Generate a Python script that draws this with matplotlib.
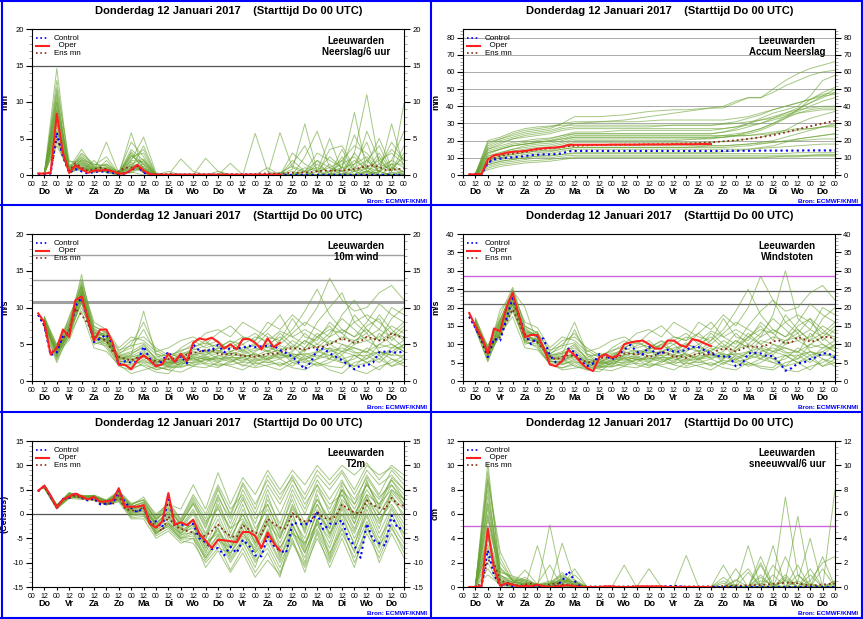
import numpy as np
import matplotlib.pyplot as plt
from matplotlib.ticker import MultipleLocator
from matplotlib.lines import Line2D

plt.rcParams['font.family'] = ['Liberation Sans', 'DejaVu Sans']
plt.rcParams['axes.unicode_minus'] = False

# Tijdstappen (uren na Do 00 UTC)
t6 = np.arange(6, 361, 6)
t_oper = np.arange(6, 241, 6)
t_leden = np.arange(12, 361, 12)

dagen = ['Do', 'Vr', 'Za', 'Zo', 'Ma', 'Di', 'Wo', 'Do', 'Vr', 'Za', 'Zo', 'Ma', 'Di', 'Wo', 'Do']
uur_labels = ['00' if h % 24 == 0 else '12' for h in range(0, 361, 12)]
titel = 'Donderdag 12 Januari 2017    (Starttijd Do 00 UTC)'

# ---------------- Neerslag / 6 uur (mm) ----------------
p6_oper = [0.2, 0.2, 0.3, 8.4, 3.0, 0.3, 1.3, 0.8, 0.3, 0.6, 0.6, 0.7, 0.5, 0.2, 0.2, 0.7, 1.4, 0.6, 0.1, 0.05,
           0.05, 0.05, 0.05, 0.05, 0.05, 0.05, 0.05, 0.05, 0.05, 0.05, 0.05, 0.05, 0.05, 0.05, 0.05, 0.05, 0.05, 0.05, 0.05, 0.05]
p6_ctrl = [0.1, 0.1, 0.2, 5.8, 2.5, 0.3, 0.8, 0.5, 0.2, 0.4, 0.5, 0.4, 0.3, 0.1, 0.2, 0.6, 1.3, 0.3, 0.05, 0.05,
           0.02, 0.02, 0.02, 0.02, 0.02, 0.02, 0.02, 0.02, 0.02, 0.02, 0.02, 0.02, 0.02, 0.02, 0.02, 0.02, 0.02, 0.02, 0.02, 0.02,
           0.02, 0.02, 0.02, 0.02, 0.02, 0.02, 0.02, 0.02, 0.02, 0.02, 0.02, 0.02, 0.02, 0.02, 0.02, 0.02, 0.02, 0.02, 0.02, 0.02]
p6_gem = [0.2, 0.2, 0.4, 5.0, 3.0, 0.6, 1.6, 1.0, 0.6, 0.8, 1.0, 0.8, 0.4, 0.5, 1.0, 1.0, 1.2, 0.4, 0.1, 0.1,
          0.1, 0.1, 0.1, 0.1, 0.1, 0.1, 0.1, 0.1, 0.1, 0.1, 0.1, 0.1, 0.1, 0.1, 0.15, 0.15, 0.2, 0.2, 0.2, 0.2,
          0.25, 0.3, 0.3, 0.35, 0.4, 0.5, 0.6, 0.6, 0.6, 0.6, 0.7, 0.8, 1.0, 1.2, 1.3, 1.1, 0.7, 0.7, 0.8, 0.9]
p6_leden = [
    [0.3, 14.6, 0.8, 1.5, 0.5, 0.8, 0.2, 1.0, 4.0, 0.1, 0, 0, 0, 0, 0, 0, 0, 0, 0.1, 0.3, 1.2, 0.5, 2.0, 1.0, 0.5, 3.0, 11.0, 1.5, 0.8, 2.5],
    [0.2, 12.0, 2.0, 1.0, 0.8, 1.5, 0.3, 3.5, 2.0, 0, 0, 2.2, 0.5, 0, 0, 0, 0, 0, 0, 0, 0, 0.5, 0, 0, 1.0, 8.6, 0.5, 0.3, 7.0, 1.0],
    [0.1, 10.0, 0.5, 2.5, 1.2, 0.6, 0.1, 2.0, 5.2, 0.3, 0, 0, 0, 0, 0, 0, 0, 5.7, 0.5, 0, 0, 0, 1.5, 0.2, 0, 0, 2.0, 4.0, 0.5, 9.8],
    [0.2, 9.0, 1.2, 0.8, 0.6, 4.5, 0.2, 0.5, 1.5, 0, 0.5, 0, 0, 0, 0, 0, 0, 0, 0, 5.8, 1.0, 0.3, 0, 0, 2.5, 0.5, 1.0, 0, 0.3, 0.5],
    [0.3, 8.0, 0.3, 1.2, 0.4, 0.5, 0, 3.0, 0.8, 0, 0, 0, 0, 2.3, 0.5, 0, 0, 0, 0, 0, 0.8, 7.0, 0.5, 0, 0, 1.0, 0.3, 2.5, 0, 0.5],
    [0.1, 7.0, 0.6, 2.0, 1.0, 0.4, 0.3, 1.2, 0.3, 0, 0, 0, 0, 0, 0, 0, 0, 0, 0, 0, 0, 0, 0, 3.5, 4.0, 1.0, 2.0, 0.5, 1.5, 0.3],
    [0.2, 6.0, 1.0, 0.5, 2.0, 0.3, 0, 0.4, 0, 0, 0, 0, 0, 0, 0, 1.6, 0, 0, 0, 0.3, 0, 0, 0, 0, 0, 0, 0.5, 0, 0, 0],
    [0.3, 11.0, 0.4, 1.8, 0.7, 1.0, 0.2, 2.5, 3.0, 0, 0, 0, 0, 0, 0, 0, 0, 0, 0, 0, 3.0, 1.5, 0.5, 5.0, 0.5, 2.0, 0.8, 3.0, 0.5, 4.0],
    [0.1, 5.0, 0.2, 1.0, 0.3, 2.0, 0.1, 0.8, 1.0, 0, 0, 0, 0, 0, 0, 0, 0, 0, 0, 0, 0, 0, 0, 0, 0.2, 0, 0, 0, 0, 0.2],
    [0.2, 9.5, 1.5, 0.6, 0.5, 0.8, 0.4, 4.5, 2.5, 0, 0, 0, 0, 0, 0, 0, 0, 0, 1.0, 0, 0, 2.5, 6.0, 1.0, 0, 1.5, 4.5, 0, 1.0, 0],
    [0.3, 4.0, 0.6, 1.4, 0.9, 0.6, 0, 1.5, 0.5, 0, 0, 0, 0, 0, 0, 0, 0, 0, 0, 0, 0, 0, 0, 0, 0, 0, 0.3, 0, 0, 0],
    [0.2, 8.5, 0.9, 3.0, 1.5, 1.2, 0.2, 2.0, 1.8, 0, 0, 0, 0, 0, 0, 0, 0, 0, 0, 0, 0.5, 0, 2.0, 0, 3.5, 0.5, 6.0, 2.0, 3.0, 1.5],
    [0.1, 6.5, 0.4, 0.9, 0.4, 0.7, 0.1, 5.8, 0.6, 0, 0, 0, 0, 0, 0, 0, 0, 0, 0, 0, 0, 0, 0, 0, 0, 0, 0, 0, 0, 0],
    [0.2, 7.5, 0.7, 1.6, 0.6, 0.9, 0.3, 1.0, 2.0, 0, 0, 0, 0, 0, 0, 0, 0, 0, 0, 0, 1.5, 4.0, 0.5, 1.0, 2.0, 0, 1.0, 0.5, 2.0, 6.0],
    [0.3, 10.5, 0.5, 1.1, 0.5, 0.5, 0.2, 0.3, 1.2, 0, 0, 0, 0, 0, 0, 0, 0, 0, 0, 0, 0, 0, 0, 0.5, 1.0, 5.5, 2.0, 0.5, 0, 0],
    [0.2, 5.5, 0.3, 2.2, 0.8, 0.4, 0, 1.8, 0.4, 0, 0, 0, 0, 0, 0, 0, 0, 0, 0, 0, 0, 0, 0, 0, 0, 0.5, 0, 1.0, 4.5, 2.0],
    [0.2, 13.0, 1.0, 3.5, 1.0, 1.5, 0.4, 2.8, 1.0, 0, 0, 0, 0, 0, 0.5, 0, 0, 0, 0, 0, 0, 1.0, 0.5, 0, 2.0, 4.0, 3.0, 1.0, 2.0, 1.0],
    [0.3, 9.0, 0.7, 2.8, 1.3, 2.5, 0.2, 1.5, 2.2, 0, 0, 0, 0, 0, 0, 0, 0, 0, 0, 0, 0, 0.5, 3.0, 2.0, 1.0, 0.5, 1.5, 5.0, 1.0, 0.5],
    [0.2, 7.0, 1.8, 1.9, 0.9, 1.1, 0.3, 2.2, 3.5, 0, 0, 0, 0, 0, 0, 0, 0, 0, 0, 0, 0, 0, 0, 1.5, 0, 3.0, 1.0, 2.0, 0.5, 3.0],
    [0.1, 11.5, 0.5, 1.3, 0.6, 0.7, 0.1, 0.6, 0.8, 0, 0, 0, 0, 0, 0, 0, 0, 0, 0, 0, 0, 0, 0, 0, 0, 0, 0.5, 0, 0.3, 0],
    [0.2, 8.0, 1.1, 2.4, 1.1, 0.9, 0.2, 3.2, 1.4, 0, 0, 0, 0, 0, 0, 0, 0, 0, 0, 0, 2.0, 0.5, 1.0, 0.5, 1.5, 2.5, 0.5, 1.5, 3.5, 2.0],
    [0.3, 6.0, 0.9, 1.7, 0.7, 0.8, 0.3, 1.3, 0.9, 0, 0, 0, 0, 0, 0, 0, 0, 0, 0, 0, 0, 0, 0, 0, 0.5, 0, 0, 0.5, 0, 0],
    [0.2, 10.0, 0.6, 2.1, 1.4, 1.3, 0.2, 2.6, 1.6, 0, 0, 0, 0, 0, 0, 0, 0, 0, 0, 0, 0, 0, 0.5, 2.5, 1.0, 1.5, 2.5, 0.5, 1.5, 1.5],
    [0.1, 4.5, 0.4, 1.0, 0.5, 0.6, 0.1, 0.9, 0.7, 0, 0, 0, 0, 0, 0, 0, 0, 0, 0, 0, 0, 0, 0, 0, 0, 0, 0, 0, 0, 0],
]

# ---------------- Geaccumuleerde neerslag (mm) ----------------
acc_oper = [0.3, 0.4, 0.6, 9.0, 11.5, 12.0, 13.0, 13.5, 13.7, 14.0, 14.6, 15.2, 15.6, 15.8, 16.0, 16.5, 17.5, 17.6, 17.6, 17.6,
            17.6, 17.6, 17.6, 17.7, 17.7, 17.7, 17.7, 17.7, 17.8, 17.8, 17.8, 17.8, 17.8, 17.9, 17.9, 17.9, 17.9, 18.0, 18.0, 18.0]
acc_ctrl = [0.2, 0.3, 0.4, 7.0, 9.0, 9.5, 10.0, 10.3, 10.6, 11.0, 11.5, 11.8, 12.0, 12.0, 12.2, 12.6, 13.8, 14.0, 14.0, 14.0,
            14.0, 14.0, 14.0, 14.0, 14.0, 14.0, 14.0, 14.0, 14.0, 14.0, 14.0, 14.0, 14.0, 14.0, 14.0, 14.0, 14.0, 14.0, 14.0, 14.0,
            14.0, 14.0, 14.1, 14.1, 14.1, 14.1, 14.1, 14.2, 14.2, 14.2, 14.2, 14.2, 14.2, 14.2, 14.3, 14.3, 14.3, 14.3, 14.3, 14.3]
acc_gem = [0.3, 0.5, 0.8, 7.5, 10.0, 11.0, 12.0, 12.5, 13.0, 13.5, 14.2, 14.8, 15.2, 15.5, 15.9, 16.3, 16.8, 17.0, 17.2, 17.3,
           17.4, 17.5, 17.5, 17.6, 17.6, 17.7, 17.7, 17.8, 17.8, 17.9, 17.9, 18.0, 18.0, 18.1, 18.2, 18.3, 18.4, 18.6, 18.8, 19.0,
           19.3, 19.6, 19.9, 20.2, 20.6, 21.0, 21.5, 22.0, 22.6, 23.2, 24.0, 24.8, 25.7, 26.6, 27.5, 28.4, 29.2, 30.0, 30.8, 31.5]
acc_leden = [
    [0.5, 20, 22, 25, 27, 28, 28.5, 29, 29, 29, 29, 29, 29, 29, 29, 29, 29, 29, 29, 29, 29.5, 30, 31, 32, 33, 35, 37, 40, 43, 45],
    [0.4, 18, 21, 23, 25, 26, 27, 30, 34, 34, 34, 34.5, 35, 36, 37, 37.5, 38, 38, 38.5, 39, 39, 42, 45, 45, 48, 52, 55, 58, 60, 61],
    [0.4, 10, 12, 14, 15, 16, 16.5, 18, 20, 20, 20, 20, 20, 20, 20, 20, 20, 20.5, 21, 21, 22, 23, 25, 27, 30, 34, 38, 44, 48, 51],
    [0.3, 6, 8, 9, 10, 11, 11.5, 12, 12.5, 12.5, 12.5, 12.5, 12.5, 12.5, 12.5, 12.5, 12.5, 12.5, 12.5, 12.5, 12.5, 12.5, 12.5, 12.5, 12.5, 12.5, 13, 13, 13, 13],
    [0.3, 3, 5, 6, 7, 7.5, 8, 9, 10, 10, 10, 10, 10, 10, 10, 10, 10, 10, 10, 10, 10, 10, 10, 10, 10.5, 11, 11, 11.5, 12, 12],
    [0.5, 15, 18, 21, 23, 24, 25, 27, 28, 28, 28, 28, 28, 28, 28, 28.5, 29, 29, 29, 29, 30, 31, 33, 35, 38, 40, 42, 44, 47, 48],
    [0.4, 12, 15, 17, 18, 19, 20, 22, 24, 24, 24, 24, 24, 24, 24, 24, 24, 24, 24, 24, 25, 27, 30, 33, 36, 38, 40, 46, 55, 58],
    [0.3, 8, 10, 11, 12, 13, 13.5, 15, 16, 16, 16, 16, 16, 16, 16, 16, 16, 16, 16.5, 17, 17, 17.5, 18, 19, 20, 22, 24, 26, 28, 30],
    [0.4, 14, 16, 18, 19, 20, 21, 23, 25, 25, 25, 25.5, 26, 26, 26, 26, 26, 26, 26, 26, 27, 28, 30, 32, 34, 36, 38, 39, 40, 40],
    [0.3, 5, 7, 8, 9, 10, 10, 11, 11.5, 11.5, 11.5, 11.5, 11.5, 11.5, 11.5, 11.5, 11.5, 11.5, 11.5, 11.5, 11.5, 11.5, 11.5, 11.5, 11.5, 11.5, 11.5, 11.5, 11.5, 11.5],
    [0.5, 17, 20, 22, 24, 25, 26, 28, 30, 30.5, 31, 31.5, 32, 33, 34, 35, 36, 37, 38, 39, 40, 43, 45, 45, 50, 55, 59, 62, 64, 66],
    [0.4, 9, 11, 13, 14, 15, 15.5, 17, 19, 19, 19, 19, 19, 19, 19, 19, 19, 19, 19, 19, 19.5, 20, 21, 22, 24, 26, 30, 33, 35, 37],
    [0.3, 7, 9, 10, 11, 12, 12.5, 14, 15, 15, 15, 15, 15, 15, 15, 15, 15, 15, 15, 15, 15, 15, 15, 15.5, 16, 16.5, 17, 17.5, 18, 18],
    [0.4, 11, 13, 15, 16, 17, 17.5, 19, 21, 21, 21, 21, 21, 21, 21, 21, 21, 21, 21, 21.5, 22, 23, 24, 26, 29, 33, 38, 42, 46, 50],
    [0.3, 4, 6, 7, 8, 8.5, 9, 10, 10.5, 10.5, 10.5, 10.5, 10.5, 10.5, 10.5, 10.5, 10.5, 10.5, 10.5, 10.5, 10.5, 10.5, 10.5, 10.5, 10.5, 10.5, 10.5, 11, 11, 11],
    [0.4, 13, 15, 17, 18, 19, 20, 21, 22, 22, 22, 22, 22, 22, 22, 22, 22, 22, 22, 22, 23, 24, 25, 27, 30, 33, 36, 38, 39, 39],
    [0.5, 19, 21, 24, 26, 27, 28, 30, 31, 31, 31, 31, 31, 31, 31.5, 32, 32, 32, 32, 32, 32, 33, 34, 36, 38, 40, 42, 44, 46, 47],
    [0.4, 16, 19, 21, 22, 23, 24, 26, 27, 27, 27, 27, 27, 27, 27, 27, 27, 27, 27, 27, 27, 28, 29, 30, 32, 34, 36, 37, 38, 38],
    [0.3, 9, 11, 12, 13, 14, 14, 15, 16, 16, 16, 16, 16, 16, 16, 16, 16, 16, 16, 16, 16, 16.5, 17, 18, 19, 20, 21, 22, 23, 24],
    [0.4, 13, 15, 17, 18, 19, 19.5, 21, 23, 23, 23, 23, 23, 23, 23, 23, 23, 23, 23, 23, 23, 23, 23, 23.5, 24, 25, 26, 27, 28, 29],
    [0.3, 6, 8, 9, 10, 11, 11, 12, 13, 13, 13, 13, 13, 13, 13, 13, 13, 13, 13, 13, 13.5, 14, 15, 16, 17, 19, 21, 22, 23, 24],
    [0.4, 11, 13, 15, 17, 18, 18.5, 20, 22, 22, 22, 22, 22, 22, 22, 22, 22, 22, 22, 22, 22, 22.5, 23, 24, 25, 26, 27, 27, 28, 28],
    [0.3, 8, 10, 12, 13, 14, 14.5, 16, 17, 17, 17, 17, 17, 17, 17, 17, 17, 17, 17, 17, 17, 17.5, 18, 18.5, 19, 19.5, 20, 20.5, 21, 21],
    [0.5, 15, 17, 19, 20, 21, 21.5, 23, 24, 24, 24, 24, 24, 24, 24, 24, 24, 24, 24, 24, 25, 26, 28, 30, 33, 36, 39, 42, 45, 48],
]

# ---------------- 10m wind (m/s) ----------------
w_oper = [9.2, 8.0, 3.6, 4.5, 7.0, 6.0, 11.0, 11.5, 8.5, 5.5, 7.0, 7.0, 5.2, 2.2, 2.2, 1.6, 2.8, 3.5, 2.8, 2.0,
          2.3, 3.7, 2.6, 3.7, 2.7, 5.2, 5.8, 5.6, 5.9, 5.3, 4.4, 5.0, 4.3, 5.7, 5.7, 5.2, 4.3, 5.8, 4.6, 5.2]
w_ctrl = [9.0, 7.5, 3.5, 3.9, 6.2, 6.5, 10.2, 11.3, 8.5, 5.3, 5.8, 6.3, 5.0, 2.2, 2.7, 2.5, 2.6, 4.7, 3.0, 2.0,
          2.7, 4.0, 2.6, 3.4, 2.4, 5.0, 4.1, 4.1, 4.2, 4.9, 3.9, 4.5, 4.5, 4.5, 4.8, 4.6, 4.7, 4.8, 4.8, 4.2,
          3.8, 3.3, 2.5, 1.6, 2.6, 4.3, 4.4, 3.8, 3.3, 2.8, 2.2, 1.6, 2.1, 2.1, 2.5, 3.9, 4.0, 4.0, 3.8, 4.1]
w_gem = [9.0, 7.5, 3.8, 4.5, 5.8, 6.8, 9.8, 9.0, 7.8, 6.0, 5.8, 5.5, 4.0, 3.3, 3.0, 2.8, 3.2, 3.3, 3.0, 2.7,
         2.7, 3.0, 3.0, 3.2, 3.6, 3.8, 4.0, 4.2, 4.3, 3.7, 3.6, 3.7, 3.6, 3.4, 3.4, 3.3, 3.5, 3.7, 3.7, 3.8,
         4.3, 4.5, 4.4, 4.3, 4.5, 4.6, 4.7, 5.0, 5.4, 5.8, 5.5, 5.2, 5.4, 6.0, 5.8, 5.5, 5.6, 6.5, 6.1, 5.9]
w_leden = [
    [8.0, 4.5, 7.0, 12.0, 6.5, 6.0, 3.0, 3.5, 9.5, 3.5, 2.5, 3.0, 4.5, 5.5, 4.0, 5.0, 6.0, 5.5, 7.0, 9.0, 6.0, 5.0, 8.0, 10.0, 12.0, 8.0, 6.5, 9.0, 7.0, 5.5],
    [7.5, 3.0, 6.0, 11.0, 5.0, 5.5, 2.5, 2.0, 3.0, 2.0, 1.5, 2.5, 3.0, 2.5, 3.5, 3.0, 2.0, 3.0, 2.5, 3.0, 2.0, 3.5, 2.5, 1.5, 1.0, 2.5, 3.0, 4.0, 3.0, 2.5],
    [8.5, 5.0, 8.5, 13.0, 7.5, 6.5, 4.0, 5.5, 6.0, 4.5, 3.5, 4.0, 5.0, 6.5, 7.0, 6.0, 8.0, 7.0, 6.0, 5.5, 7.0, 9.5, 12.5, 9.0, 7.0, 6.0, 8.0, 10.5, 9.0, 8.0],
    [7.8, 4.0, 5.5, 10.0, 6.0, 4.5, 2.0, 1.5, 2.5, 1.5, 2.0, 1.8, 2.5, 3.0, 2.0, 2.5, 3.5, 2.0, 3.0, 4.0, 2.5, 2.0, 3.0, 4.5, 3.0, 2.0, 3.5, 2.5, 4.0, 3.0],
    [8.2, 3.5, 7.5, 14.5, 6.0, 5.0, 3.5, 4.0, 5.0, 3.0, 2.5, 3.5, 4.0, 3.5, 4.5, 5.5, 4.0, 5.0, 4.5, 6.5, 5.0, 4.0, 6.0, 7.5, 5.5, 9.0, 7.0, 5.5, 8.5, 10.0],
    [7.0, 2.5, 6.5, 12.5, 5.5, 5.8, 2.8, 2.5, 4.0, 2.5, 3.0, 2.0, 3.5, 4.0, 3.0, 3.5, 2.5, 4.0, 5.0, 3.5, 4.0, 5.5, 4.5, 3.0, 5.0, 4.0, 3.0, 5.0, 6.0, 4.5],
    [8.8, 4.8, 8.0, 11.5, 7.0, 6.2, 3.2, 3.0, 2.0, 1.2, 1.0, 2.5, 2.0, 3.0, 2.5, 4.0, 5.0, 3.5, 3.0, 2.0, 3.0, 4.5, 6.0, 5.0, 4.0, 5.5, 6.5, 4.0, 3.5, 5.0],
    [7.6, 3.8, 7.0, 13.5, 8.0, 7.0, 4.5, 6.0, 5.5, 4.0, 4.5, 5.5, 6.0, 5.0, 6.5, 7.5, 6.0, 5.5, 8.0, 7.0, 9.0, 7.5, 10.0, 14.0, 11.0, 9.5, 10.0, 12.0, 13.0, 11.0],
    [8.4, 4.2, 6.2, 9.5, 4.5, 4.0, 2.2, 1.0, 1.5, 2.0, 1.5, 1.2, 2.0, 1.8, 2.5, 2.0, 1.5, 2.5, 2.0, 1.5, 2.5, 3.0, 2.0, 2.5, 3.5, 1.5, 1.0, 2.0, 2.5, 3.5],
    [8.0, 3.2, 7.2, 12.2, 6.8, 5.2, 3.8, 4.5, 7.0, 3.8, 2.8, 4.5, 5.5, 4.5, 5.0, 4.5, 5.5, 6.5, 5.0, 6.0, 4.5, 6.5, 5.0, 6.5, 8.5, 7.0, 5.5, 6.0, 7.5, 6.5],
    [7.4, 4.6, 5.8, 11.8, 5.8, 6.8, 2.6, 2.8, 3.5, 2.2, 2.2, 3.0, 2.8, 3.2, 2.8, 3.2, 3.0, 2.6, 3.5, 4.5, 3.5, 2.8, 4.0, 3.5, 2.5, 3.0, 4.5, 3.5, 2.0, 3.0],
    [8.6, 3.6, 8.8, 12.8, 7.2, 6.0, 3.4, 3.8, 4.5, 3.2, 3.8, 3.2, 4.2, 4.8, 5.5, 4.0, 4.5, 4.8, 6.5, 5.0, 6.5, 8.0, 7.0, 6.0, 9.0, 11.0, 8.5, 7.0, 10.0, 9.0],
    [7.2, 2.8, 6.8, 10.5, 5.2, 4.8, 2.4, 2.2, 2.8, 1.8, 2.6, 2.2, 3.2, 2.2, 1.8, 2.8, 2.2, 1.8, 2.2, 2.5, 1.8, 1.5, 2.5, 2.0, 1.8, 3.5, 2.5, 1.5, 3.0, 2.0],
    [8.3, 4.4, 7.8, 13.2, 6.2, 5.6, 3.6, 5.0, 8.0, 4.2, 3.2, 3.8, 3.8, 4.2, 3.8, 5.0, 3.8, 4.5, 4.0, 5.5, 8.5, 6.0, 5.5, 8.0, 6.5, 5.0, 7.5, 8.5, 5.5, 7.0],
    [7.7, 3.4, 6.6, 11.2, 6.6, 6.4, 3.0, 3.2, 3.8, 2.8, 2.0, 2.8, 2.4, 2.8, 3.2, 2.6, 3.2, 3.8, 2.8, 3.8, 3.2, 3.8, 3.2, 4.0, 4.5, 3.8, 4.0, 3.0, 4.5, 5.5],
    [8.1, 4.0, 7.4, 12.6, 5.6, 5.4, 2.6, 2.6, 3.2, 2.6, 2.4, 2.6, 3.6, 3.8, 4.2, 3.6, 4.2, 3.2, 3.8, 4.2, 4.8, 3.2, 3.8, 5.5, 5.0, 4.5, 3.8, 6.5, 5.0, 4.0],
    [8.3, 3.8, 7.6, 12.0, 6.0, 5.6, 3.0, 3.0, 3.5, 2.5, 2.5, 3.2, 3.6, 3.2, 3.8, 4.0, 3.6, 4.2, 4.6, 4.0, 5.5, 4.5, 6.5, 5.0, 6.0, 5.5, 6.0, 7.0, 6.0, 7.5],
    [7.9, 4.2, 6.8, 11.5, 6.4, 6.2, 3.2, 3.4, 4.2, 2.9, 2.7, 3.4, 3.0, 3.6, 4.0, 3.4, 3.6, 3.0, 3.4, 3.6, 3.0, 4.2, 5.0, 4.2, 3.6, 5.0, 5.5, 4.5, 5.0, 4.0],
    [8.5, 3.3, 7.0, 12.4, 6.9, 5.9, 2.7, 2.4, 2.6, 2.3, 1.9, 2.4, 2.6, 3.4, 2.6, 3.0, 2.8, 3.4, 4.2, 3.0, 3.8, 3.0, 3.5, 3.0, 4.0, 3.5, 2.5, 3.5, 4.0, 5.0],
    [7.3, 4.8, 8.2, 13.8, 7.4, 6.6, 4.2, 4.8, 5.2, 3.6, 3.4, 4.2, 4.6, 5.2, 4.6, 5.4, 5.0, 6.0, 5.4, 6.8, 6.0, 7.0, 6.0, 7.0, 6.5, 8.0, 9.0, 8.0, 6.5, 8.0],
    [8.0, 3.6, 6.4, 10.8, 5.4, 5.0, 2.3, 1.8, 2.2, 1.6, 1.8, 2.0, 2.2, 2.4, 2.2, 2.2, 2.6, 2.4, 2.6, 2.2, 2.8, 2.5, 2.2, 3.0, 2.5, 2.0, 2.5, 3.0, 2.0, 2.5],
    [8.7, 4.4, 7.8, 12.9, 6.3, 5.3, 3.3, 3.6, 4.8, 3.0, 2.9, 3.6, 4.4, 4.0, 4.4, 4.8, 4.2, 5.2, 4.0, 4.8, 4.2, 5.5, 4.5, 6.0, 7.0, 6.0, 7.0, 5.5, 6.5, 6.0],
    [7.6, 3.9, 6.9, 11.9, 6.1, 5.7, 2.9, 2.9, 3.3, 2.7, 2.3, 2.9, 3.4, 2.9, 3.4, 3.8, 3.4, 3.6, 3.2, 3.4, 3.6, 3.6, 4.0, 4.5, 4.0, 4.5, 4.0, 5.0, 4.5, 4.5],
    [8.2, 4.1, 7.3, 12.2, 6.5, 6.1, 3.1, 3.3, 3.6, 2.4, 2.1, 2.7, 3.2, 3.0, 3.0, 3.2, 3.2, 2.8, 3.0, 3.2, 3.4, 2.6, 3.0, 3.5, 3.0, 3.5, 3.5, 4.0, 3.5, 3.5],
]

# ---------------- Windstoten (m/s) ----------------
g_oper = [18.5, 15.0, 12.0, 7.5, 14.3, 13.5, 20.0, 24.0, 18.0, 12.0, 12.5, 12.5, 9.0, 4.5, 4.0, 5.5, 8.5, 7.0, 5.0, 3.5,
          2.7, 6.5, 7.3, 6.3, 7.0, 10.0, 10.5, 10.8, 11.0, 10.0, 8.8, 8.8, 11.0, 11.0, 9.8, 9.2, 11.4, 11.0, 10.2, 9.5]
g_ctrl = [17.5, 14.5, 11.0, 6.5, 11.5, 11.0, 17.0, 22.5, 18.0, 12.5, 10.0, 12.0, 11.5, 7.0, 5.0, 5.2, 8.8, 7.8, 5.5, 4.0,
          4.8, 7.3, 7.0, 5.8, 7.0, 8.5, 9.8, 8.0, 7.2, 9.3, 7.5, 7.5, 8.5, 8.0, 8.0, 8.5, 9.3, 9.2, 8.3, 7.5,
          6.8, 6.7, 6.6, 4.0, 4.5, 7.5, 7.7, 7.5, 6.8, 6.8, 5.0, 2.8, 3.5, 4.8, 5.0, 6.0, 6.5, 7.5, 7.5, 6.3]
g_gem = [17.5, 14.5, 11.0, 7.5, 11.0, 12.0, 16.0, 19.5, 16.0, 12.0, 11.0, 10.5, 8.5, 6.8, 5.8, 6.6, 7.0, 6.8, 6.0, 5.0,
         5.2, 6.2, 6.5, 6.3, 6.5, 7.5, 7.5, 7.2, 7.5, 6.5, 7.0, 8.0, 7.5, 6.5, 6.8, 6.3, 7.0, 7.5, 7.2, 7.3,
         8.3, 8.8, 8.7, 8.0, 8.7, 9.5, 9.3, 9.3, 9.8, 10.8, 11.0, 10.3, 10.5, 12.0, 11.3, 10.7, 11.0, 12.0, 12.0, 11.5]
g_leden = [
    [15.5, 8.0, 16.0, 23.0, 14.0, 12.0, 7.0, 7.5, 14.0, 7.0, 5.0, 6.5, 9.0, 11.0, 8.5, 10.0, 12.0, 11.0, 13.0, 16.0, 12.0, 10.0, 15.0, 19.0, 22.0, 16.0, 13.0, 17.0, 14.0, 11.0],
    [14.5, 6.0, 13.0, 21.0, 10.0, 11.0, 5.5, 4.5, 6.0, 4.5, 3.5, 5.0, 6.0, 5.0, 7.0, 6.0, 4.5, 6.0, 5.0, 6.0, 4.5, 7.0, 5.0, 3.5, 3.0, 5.0, 6.0, 8.0, 6.0, 5.0],
    [16.0, 9.0, 18.0, 25.5, 15.0, 13.0, 8.0, 11.0, 12.0, 9.0, 7.0, 8.0, 10.0, 13.0, 14.0, 12.0, 16.0, 14.0, 12.0, 11.0, 14.0, 19.0, 25.0, 18.0, 14.0, 12.0, 16.0, 21.0, 18.0, 16.0],
    [15.0, 7.5, 12.0, 19.0, 11.0, 9.0, 4.5, 3.5, 5.0, 3.5, 4.0, 3.8, 5.0, 6.0, 4.0, 5.0, 7.0, 4.0, 6.0, 8.0, 5.0, 4.0, 6.0, 9.0, 6.0, 4.0, 7.0, 5.0, 8.0, 6.0],
    [16.5, 7.0, 16.5, 24.5, 20.0, 10.0, 7.0, 8.0, 10.0, 6.0, 5.0, 7.0, 8.0, 7.0, 9.0, 11.0, 8.0, 10.0, 9.0, 13.0, 10.0, 8.0, 12.0, 15.0, 11.0, 18.0, 14.0, 11.0, 17.0, 20.0],
    [14.0, 5.5, 14.0, 22.0, 11.0, 11.5, 5.5, 5.0, 8.0, 5.0, 6.0, 4.0, 7.0, 8.0, 6.0, 7.0, 5.0, 8.0, 10.0, 7.0, 8.0, 11.0, 9.0, 6.0, 10.0, 8.0, 6.0, 10.0, 12.0, 9.0],
    [17.0, 9.5, 17.0, 20.5, 13.5, 12.5, 6.5, 6.0, 4.0, 3.0, 2.5, 5.0, 4.0, 6.0, 5.0, 8.0, 10.0, 7.0, 6.0, 4.0, 6.0, 9.0, 12.0, 10.0, 8.0, 11.0, 13.0, 8.0, 7.0, 10.0],
    [15.2, 7.2, 15.0, 24.0, 16.0, 14.5, 9.0, 12.0, 11.0, 8.0, 9.0, 11.0, 12.0, 10.0, 13.0, 15.0, 12.0, 11.0, 16.0, 14.0, 18.0, 15.0, 20.0, 28.5, 22.0, 19.0, 20.0, 24.0, 26.0, 22.0],
    [16.2, 8.2, 13.0, 17.5, 9.0, 8.5, 4.8, 3.0, 3.5, 4.0, 3.2, 2.8, 4.0, 3.6, 5.0, 4.0, 3.0, 5.0, 4.0, 3.0, 5.0, 6.0, 4.0, 5.0, 7.0, 3.0, 2.5, 4.0, 5.0, 7.0],
    [15.8, 6.5, 15.5, 22.5, 13.0, 10.5, 7.5, 9.0, 16.0, 7.5, 5.5, 9.0, 11.0, 9.0, 10.0, 9.0, 11.0, 13.0, 10.0, 12.0, 9.0, 13.0, 10.0, 13.0, 17.0, 14.0, 11.0, 12.0, 15.0, 13.0],
    [14.8, 9.0, 12.5, 21.5, 11.5, 13.5, 5.2, 5.5, 7.0, 4.4, 4.4, 6.0, 5.6, 6.4, 5.6, 6.4, 6.0, 5.2, 7.0, 9.0, 7.0, 5.6, 8.0, 7.0, 5.0, 6.0, 9.0, 7.0, 4.0, 6.0],
    [16.8, 7.2, 19.5, 23.5, 14.5, 12.0, 6.8, 7.6, 9.0, 6.4, 7.6, 6.4, 8.4, 9.6, 11.0, 8.0, 9.0, 9.6, 13.0, 10.0, 13.0, 16.0, 14.0, 12.0, 18.0, 30.0, 17.0, 14.0, 20.0, 18.0],
    [14.2, 5.2, 13.5, 19.5, 10.5, 9.5, 4.8, 4.4, 5.6, 3.6, 5.2, 4.4, 6.4, 4.4, 3.6, 5.6, 4.4, 3.6, 4.4, 5.0, 3.6, 3.0, 5.0, 4.0, 3.6, 7.0, 5.0, 3.0, 6.0, 4.0],
    [16.4, 8.8, 16.8, 24.2, 12.4, 11.2, 7.2, 10.0, 13.0, 8.4, 6.4, 7.6, 7.6, 8.4, 7.6, 10.0, 7.6, 9.0, 8.0, 11.0, 17.0, 12.0, 11.0, 16.0, 13.0, 10.0, 15.0, 17.0, 11.0, 14.0],
    [15.0, 6.8, 13.2, 20.8, 13.2, 12.8, 6.0, 6.4, 7.6, 5.6, 4.0, 5.6, 4.8, 5.6, 6.4, 5.2, 6.4, 7.6, 5.6, 7.6, 6.4, 7.6, 6.4, 8.0, 9.0, 7.6, 8.0, 6.0, 9.0, 11.0],
    [15.6, 8.0, 14.8, 23.2, 11.2, 10.8, 5.2, 5.2, 6.4, 5.2, 4.8, 5.2, 7.2, 7.6, 8.4, 7.2, 8.4, 6.4, 7.6, 8.4, 9.6, 6.4, 7.6, 11.0, 10.0, 9.0, 7.6, 13.0, 10.0, 8.0],
    [15.8, 7.6, 15.2, 22.0, 12.0, 11.0, 6.0, 6.0, 7.0, 5.0, 5.0, 6.4, 7.2, 6.4, 7.6, 8.0, 7.2, 8.4, 9.2, 8.0, 11.0, 9.0, 13.0, 10.0, 12.0, 11.0, 12.0, 14.0, 12.0, 15.0],
    [15.4, 8.4, 13.6, 21.0, 12.8, 12.4, 6.4, 6.8, 8.4, 5.8, 5.4, 6.8, 6.0, 7.2, 8.0, 6.8, 7.2, 6.0, 6.8, 7.2, 6.0, 8.4, 10.0, 8.4, 7.2, 10.0, 11.0, 9.0, 10.0, 8.0],
    [16.6, 6.6, 14.0, 22.8, 13.8, 11.8, 5.4, 4.8, 5.2, 4.6, 3.8, 4.8, 5.2, 6.8, 5.2, 6.0, 5.6, 6.8, 8.4, 6.0, 7.6, 6.0, 7.0, 6.0, 8.0, 7.0, 5.0, 7.0, 8.0, 10.0],
    [14.6, 9.6, 16.4, 25.0, 14.8, 13.2, 8.4, 9.6, 10.4, 7.2, 6.8, 8.4, 9.2, 10.4, 9.2, 10.8, 10.0, 12.0, 10.8, 13.6, 12.0, 14.0, 12.0, 14.0, 13.0, 16.0, 18.0, 16.0, 13.0, 16.0],
    [16.0, 7.2, 12.8, 20.0, 10.8, 10.0, 4.6, 3.6, 4.4, 3.2, 3.6, 4.0, 4.4, 4.8, 4.4, 4.4, 5.2, 4.8, 5.2, 4.4, 5.6, 5.0, 4.4, 6.0, 5.0, 4.0, 5.0, 6.0, 4.0, 5.0],
    [17.2, 8.8, 15.6, 23.8, 12.6, 10.6, 6.6, 7.2, 9.6, 6.0, 5.8, 7.2, 8.8, 8.0, 8.8, 9.6, 8.4, 10.4, 8.0, 9.6, 8.4, 11.0, 9.0, 12.0, 14.0, 12.0, 14.0, 11.0, 13.0, 12.0],
    [15.2, 7.8, 13.8, 22.2, 12.2, 11.4, 5.8, 5.8, 6.6, 5.4, 4.6, 5.8, 6.8, 5.8, 6.8, 7.6, 6.8, 7.2, 6.4, 6.8, 7.2, 7.2, 8.0, 9.0, 8.0, 9.0, 8.0, 10.0, 9.0, 9.0],
    [16.2, 8.2, 14.6, 23.0, 13.0, 12.2, 6.2, 6.6, 7.2, 4.8, 4.2, 5.4, 6.4, 6.0, 6.0, 6.4, 6.4, 5.6, 6.0, 6.4, 6.8, 5.2, 6.0, 7.0, 6.0, 7.0, 7.0, 8.0, 7.0, 7.0],
]

# ---------------- T2m (Celsius) ----------------
t2_oper = [4.8, 5.8, 3.8, 1.3, 3.0, 3.6, 4.2, 3.6, 3.0, 3.5, 2.5, 2.6, 2.8, 5.3, 1.5, 1.5, 1.5, 1.8, -2.0, -2.8,
           -1.5, 4.3, -2.2, -1.7, -2.3, -1.2, -4.0, -5.5, -7.0, -5.3, -5.4, -5.6, -5.8, -3.7, -3.7, -4.5, -7.0, -3.8, -6.0, -7.5]
t2_ctrl = [4.7, 5.8, 3.6, 1.3, 3.1, 3.4, 4.3, 3.5, 2.8, 3.3, 2.0, 2.1, 2.2, 4.8, 2.3, 1.3, 0.3, 1.4, -1.7, -1.5,
           -2.8, 3.5, -2.0, -2.2, -2.2, -2.0, -5.0, -5.8, -7.2, -7.0, -8.5, -6.7, -8.0, -5.3, -6.5, -8.5, -8.7, -4.6, -6.5, -7.5,
           -8.0, -1.8, -2.0, -2.2, -1.5, 0.2, -3.3, -2.0, -2.0, -1.3, -5.0, -6.5, -9.0, -2.0, -5.3, -6.0, -6.5, -0.3, -3.0, -2.8]
t2_gem = [4.7, 5.6, 3.6, 1.5, 3.0, 3.2, 3.8, 3.2, 2.8, 3.0, 2.0, 2.2, 2.0, 3.8, 1.0, 0.8, 0.5, 1.5, -1.5, -2.5,
          -3.5, -0.5, -2.5, -3.0, -3.5, -3.8, -4.5, -4.5, -3.5, -2.2, -3.5, -4.5, -4.8, -2.3, -3.2, -3.8, -4.2, -1.0, -2.0, -2.8,
          -3.0, 0.2, -1.0, -1.5, -1.3, 0.5, -0.8, -1.0, -0.5, 2.0, 1.0, 0.3, 0.1, 2.8, 1.8, 1.3, 1.0, 3.3, 2.0, 1.7]
t2_leden = [
    [5.8, 1.5, 4.2, 3.8, 3.8, 2.5, 4.5, 2.0, 3.0, 0.0, 2.0, 1.0, 6.0, 1.0, 8.5, 2.0, 7.5, 4.0, 9.0, 5.0, 9.0, 6.0, 10.0, 7.0, 10.0, 8.0, 10.5, 7.0, 10.0, 8.0],
    [5.5, 1.2, 3.5, 3.2, 3.0, 2.0, 2.5, -1.0, -1.0, -5.0, -3.5, -6.0, -5.0, -11.0, -7.5, -12.0, -8.0, -13.0, -9.5, -12.5, -6.0, -11.0, -5.0, -10.0, -4.0, -9.0, -3.0, -8.0, -2.0, -6.0],
    [6.0, 1.8, 4.0, 3.5, 3.5, 2.8, 4.0, 1.5, 2.5, -1.0, 1.0, -2.0, 2.0, -3.0, 4.0, -2.0, 5.0, 0.0, 6.0, 2.0, 7.0, 3.0, 8.0, 5.0, 8.5, 4.0, 9.0, 6.0, 8.0, 5.0],
    [5.2, 1.0, 3.2, 3.0, 2.8, 1.8, 3.0, 0.0, 0.5, -3.0, -1.0, -4.0, -2.0, -7.0, -3.0, -9.0, -5.0, -10.0, -6.0, -11.0, -4.0, -9.0, -2.0, -7.0, 0.0, -4.0, 2.0, -2.0, 3.0, 0.0],
    [5.7, 1.4, 4.4, 3.6, 3.6, 2.6, 3.5, 1.0, 2.0, -2.0, 0.0, -3.0, -1.0, -5.0, 0.0, -6.0, 1.0, -4.0, 3.0, -2.0, 5.0, 0.0, 6.0, 2.0, 4.0, -1.0, 3.0, -3.0, 5.0, 2.0],
    [5.4, 1.6, 3.8, 3.4, 3.2, 2.2, 3.8, 0.5, 1.0, -4.0, -2.0, -5.0, -4.0, -9.0, -5.0, -10.0, -6.0, -11.0, -3.0, -8.0, -1.0, -5.0, 2.0, -2.0, 4.0, 0.0, 5.0, 1.0, 6.0, 3.0],
    [5.9, 1.3, 4.0, 3.8, 3.4, 2.4, 4.2, 1.8, 3.5, -0.5, 2.5, -1.0, 4.0, 0.0, 6.0, 1.0, 4.0, -1.0, 2.0, -4.0, 0.0, -6.0, -2.0, -8.0, -3.0, -10.0, -4.0, -9.0, -3.0, -7.0],
    [5.6, 1.7, 4.2, 3.2, 3.8, 2.0, 2.8, -0.5, 0.0, -4.5, -3.0, -5.5, -6.0, -10.0, -7.0, -8.0, -4.0, -7.0, -2.0, -5.0, 1.0, -3.0, 3.0, -1.0, 5.0, 2.0, 6.0, 3.0, 7.0, 4.0],
    [5.3, 1.1, 3.4, 3.6, 3.0, 2.7, 3.2, 1.2, 1.5, -2.5, -0.5, -3.5, -3.0, -6.0, -4.0, -7.0, -3.0, -8.0, -5.0, -10.0, -5.0, -12.0, -4.0, -11.0, -5.0, -11.0, -2.0, -10.0, -4.0, -9.0],
    [5.8, 1.9, 4.4, 3.3, 3.9, 2.9, 4.8, 2.2, 2.8, -1.5, 1.5, -2.5, 1.0, -4.0, 2.0, -3.0, 3.0, -2.0, 5.0, 0.0, 6.0, 1.0, 7.0, 3.0, 7.0, 2.0, 8.0, 4.0, 9.0, 6.0],
    [5.5, 1.5, 3.6, 3.7, 3.3, 2.1, 3.4, 0.8, 1.2, -3.5, -1.5, -4.5, -2.5, -8.0, -2.0, -5.0, 0.0, -6.0, 0.0, -7.0, -2.0, -8.0, -1.0, -6.0, 1.0, -5.0, 0.0, -6.0, 1.0, -4.0],
    [5.6, 1.4, 3.9, 3.1, 3.6, 2.3, 3.6, 0.2, 0.8, -2.0, 0.5, -3.0, 0.0, -5.5, 3.0, -4.0, 2.0, -5.0, 4.0, -3.0, 3.0, -4.0, 4.0, -3.0, 6.0, -1.0, 7.0, 0.0, 4.0, -1.0],
    [5.4, 1.2, 3.7, 3.9, 3.1, 2.6, 3.1, -0.8, -0.5, -4.0, -2.5, -5.0, -4.5, -9.5, -6.0, -11.5, -7.0, -12.0, -8.0, -13.0, -3.0, -10.0, -1.0, -9.0, -2.0, -8.0, 1.0, -5.0, -1.0, -4.0],
    [5.7, 1.8, 4.1, 3.5, 3.7, 2.5, 4.4, 1.6, 2.2, -1.0, 1.8, -1.5, 3.0, -2.0, 5.0, 0.0, 6.5, 2.0, 7.0, 3.0, 8.0, 4.0, 9.0, 6.0, 9.0, 5.0, 10.0, 8.0, 9.5, 7.0],
    [5.3, 1.3, 3.3, 3.4, 2.9, 1.9, 2.6, 0.0, -0.2, -3.8, -2.2, -4.8, -3.5, -7.5, -4.5, -8.5, -2.0, -6.5, -1.0, -6.0, 0.0, -7.0, 1.0, -4.0, 2.0, -3.0, 3.0, -1.0, 2.0, -2.0],
    [5.9, 1.6, 4.3, 3.7, 3.5, 2.7, 4.6, 1.4, 1.8, -2.2, 0.8, -2.0, 2.5, -1.5, 1.0, -3.0, -1.0, -6.0, -2.0, -9.0, -4.0, -6.0, 0.0, -3.0, 3.0, 0.0, 4.0, 2.0, 5.0, 3.0],
    [5.6, 1.5, 3.9, 3.5, 3.4, 2.4, 3.7, 1.0, 1.4, -2.8, -0.8, -3.8, -1.5, -6.5, -1.0, -7.0, -2.0, -8.0, -3.5, -7.0, -2.5, -6.5, 0.5, -4.5, 2.5, -2.0, 4.0, -1.5, 3.5, 1.0],
    [5.5, 1.4, 3.7, 3.3, 3.3, 2.3, 3.3, 0.6, 1.1, -3.2, -1.8, -4.2, -3.8, -8.5, -4.2, -9.5, -5.5, -9.0, -4.5, -9.5, -2.0, -7.5, -3.0, -8.5, -1.0, -6.0, -0.5, -7.0, 0.0, -5.0],
    [5.8, 1.7, 4.1, 3.6, 3.7, 2.6, 4.1, 1.5, 2.4, -1.2, 1.2, -1.8, 2.2, -2.5, 3.5, -1.0, 3.5, -3.0, 1.0, -5.0, 2.0, -3.5, 5.0, 1.0, 6.5, 3.0, 7.5, 3.5, 6.0, 2.0],
    [5.4, 1.3, 3.6, 3.4, 3.1, 2.2, 3.0, 0.3, 0.6, -3.6, -2.6, -5.2, -5.0, -9.0, -5.5, -7.0, -3.5, -9.5, -7.0, -12.0, -5.5, -10.5, -3.5, -9.5, -3.0, -7.5, -1.5, -6.5, -2.5, -8.0],
    [5.7, 1.6, 4.0, 3.6, 3.5, 2.5, 3.9, 1.3, 1.9, -1.8, 0.3, -2.8, 0.5, -4.5, 1.5, -5.0, 0.0, -4.5, 2.0, -3.5, 4.0, -2.0, 3.0, -1.5, 5.0, 1.0, 6.0, 2.0, 7.5, 5.0],
    [5.3, 1.2, 3.5, 3.5, 3.0, 2.1, 2.9, -0.2, 0.2, -4.2, -2.0, -4.0, -2.0, -6.0, -3.5, -6.5, -1.5, -5.5, -0.5, -4.5, 1.5, -2.5, 2.0, -4.0, 0.0, -6.5, 2.0, -4.0, 1.5, -3.0],
    [5.6, 1.5, 3.8, 3.4, 3.6, 2.4, 3.5, 0.9, 1.6, -2.4, -0.3, -3.2, -2.2, -7.0, -2.8, -8.0, -4.5, -7.5, -1.5, -8.5, -3.5, -8.0, -1.5, -5.0, 1.5, -3.5, 3.5, 0.0, 4.5, 1.5],
    [5.9, 1.8, 4.2, 3.7, 3.8, 2.8, 4.3, 1.9, 2.9, -0.8, 2.2, -1.2, 3.5, -1.0, 5.5, -0.5, 6.0, 1.0, 8.0, 4.0, 7.5, 2.0, 6.0, 0.0, 5.0, -2.0, 6.5, 1.5, 7.0, 3.0],
]

# ---------------- Sneeuwval / 6 uur (cm) ----------------
s_oper = [0.0, 0.0, 0.1, 4.8, 1.5, 0.1, 0.3, 0.2, 0.05, 0.1, 0.05, 0.2, 0.05, 0.0, 0.05, 0.1, 0.15, 0.05, 0.0, 0.0,
          0.0, 0.0, 0.05, 0.05, 0.0, 0.0, 0.0, 0.05, 0.05, 0.05, 0.05, 0.05, 0.0, 0.0, 0.0, 0.0, 0.0, 0.0, 0.0, 0.0]
s_ctrl = [0.0, 0.0, 0.1, 3.0, 1.0, 0.1, 0.2, 0.05, 0.0, 0.0, 0.0, 0.0, 0.0, 0.0, 0.1, 0.5, 1.3, 0.5, 0.0, 0.0,
          0.0, 0.0, 0.0, 0.0, 0.0, 0.0, 0.0, 0.0, 0.0, 0.0, 0.0, 0.0, 0.05, 0.1, 0.05, 0.0, 0.0, 0.0, 0.0, 0.0,
          0.0, 0.0, 0.0, 0.0, 0.0, 0.0, 0.0, 0.0, 0.0, 0.0, 0.0, 0.0, 0.0, 0.0, 0.0, 0.0, 0.0, 0.0, 0.0, 0.0]
s_gem = [0.0, 0.0, 0.3, 2.2, 2.0, 0.5, 0.4, 0.2, 0.1, 0.2, 0.3, 0.1, 0.05, 0.2, 0.3, 0.2, 0.2, 0.1, 0.05, 0.05,
         0.05, 0.05, 0.05, 0.05, 0.05, 0.05, 0.05, 0.05, 0.05, 0.05, 0.05, 0.05, 0.05, 0.05, 0.05, 0.05, 0.05, 0.05, 0.05, 0.05,
         0.05, 0.08, 0.1, 0.1, 0.12, 0.15, 0.15, 0.15, 0.2, 0.25, 0.3, 0.35, 0.35, 0.3, 0.2, 0.15, 0.15, 0.2, 0.25, 0.3]
s_leden = [
    [0.1, 10.2, 1.0, 0.2, 0.3, 0.1, 0, 0.5, 0.1, 0, 0, 0, 0, 0, 0, 0, 0, 0, 0, 0, 0, 0.2, 0, 0.5, 0.3, 7.4, 1.0, 0.2, 0, 0.5],
    [0, 9.0, 2.9, 0.8, 0.5, 0, 5.1, 0.2, 0, 0, 0, 0, 0, 0, 0, 0, 0, 0, 0, 0, 0, 0, 0, 0, 0, 0.5, 5.8, 0.3, 0, 0.2],
    [0.1, 8.0, 0.5, 0.3, 1.4, 0.2, 0.1, 3.6, 0.5, 0, 0, 0, 0, 0, 0, 0, 0, 2.6, 0, 0, 0, 0, 3.4, 0, 0, 0, 0, 0, 0, 0],
    [0, 6.5, 0.3, 0.1, 0, 3.4, 0, 0.1, 1.5, 0, 0, 0, 1.8, 0, 0, 0, 0, 0, 0, 0, 0.3, 0, 0, 0, 3.4, 0, 0.5, 4.0, 0, 0],
    [0.1, 5.0, 1.5, 0.5, 0.2, 0, 0, 0.8, 0.2, 0, 0, 0, 0, 0, 0, 0, 0, 0, 0, 0, 1.8, 0, 0, 0, 0, 0, 0, 0, 0, 8.0],
    [0, 4.0, 0.2, 0.2, 0.1, 0.3, 1.8, 0, 0, 0, 0, 0, 0, 0, 0, 0, 0, 0, 0, 0, 0, 0, 0, 2.5, 0.2, 0, 0, 0, 2.5, 0],
    [0.1, 3.0, 0.8, 0.4, 0.3, 0.1, 0.2, 1.2, 0, 0, 0, 0, 0, 0, 0, 0, 0, 0, 0, 0, 0, 0, 0, 0, 0, 0, 0, 0, 0, 0],
    [0, 7.0, 1.2, 0.9, 0.6, 0.2, 0.5, 0.3, 1.0, 0, 0, 0, 0, 0, 0, 0, 0, 0, 0, 0, 0, 1.5, 0, 2.0, 0, 1.0, 0, 0.5, 2.0, 2.5],
    [0.1, 2.0, 0.1, 0.1, 0, 0, 0, 0, 0, 0, 0, 0, 0, 0, 0, 0, 0, 0, 0, 0, 0, 0, 0, 0, 0, 0, 0, 0, 0, 0],
    [0, 8.5, 0.6, 0.3, 0.8, 0.1, 0.3, 0.6, 0.4, 0, 0, 0, 0, 0, 1.5, 0, 0, 0, 0, 0, 0, 0, 0, 0, 1.8, 0.5, 0, 1.0, 0, 0],
    [0.1, 3.5, 0.4, 0.2, 0.1, 0.2, 0, 0.2, 0, 0, 0, 0, 0, 0, 0, 0, 0, 0, 0, 0, 0, 0, 0, 0, 0, 0, 0, 0, 0, 0],
    [0, 6.0, 0.9, 0.6, 0.4, 0, 0.1, 0.4, 0.2, 0, 0, 0, 0, 0, 0, 0, 0, 0, 0, 0, 0, 0.5, 1.5, 0, 0, 2.5, 0.3, 0, 1.5, 0],
    [0.1, 1.0, 0.2, 0, 0.1, 0, 0, 0.1, 0, 0, 0, 0, 0, 0, 0, 0, 0, 0, 0, 0, 0, 0, 0, 0, 0, 0, 0, 0, 0, 0],
    [0, 4.5, 0.7, 0.4, 0.2, 0.1, 0.4, 1.0, 0.3, 0, 0, 0, 0, 0, 0, 0, 0, 0, 0, 0, 0.5, 0, 0, 1.0, 0, 0, 1.0, 0, 0, 0.3],
    [0.1, 5.5, 2.0, 0.5, 0.3, 0.2, 0.1, 0.5, 0.6, 0, 0, 0, 0, 0, 0, 0, 0, 0, 0, 0, 0, 0, 0, 0, 0, 0, 0, 0, 0, 0],
    [0, 2.5, 0.3, 0.1, 0.2, 0, 0, 0.3, 0.1, 0, 0, 0, 0, 0, 0, 0, 0, 0, 0, 0, 0, 0, 0, 0.3, 0, 0, 0, 0.2, 0, 0],
    [0.1, 7.5, 1.6, 0.6, 0.4, 0.2, 0.3, 0.4, 0.3, 0, 0, 0, 0, 0, 0, 0, 0, 0, 0, 0, 0, 0, 0, 0.8, 0, 0.6, 0, 0, 0, 0],
    [0, 5.8, 0.5, 0.3, 0.2, 0.1, 0.2, 0.7, 0.2, 0, 0, 0, 0, 0, 0, 0, 0, 0, 0, 0, 0, 0, 0, 0, 0, 0, 0, 0, 0, 0],
    [0.1, 9.5, 1.3, 0.7, 0.5, 0.1, 0.1, 0.5, 0.4, 0, 0, 0, 0, 0, 0, 0, 0, 0, 0, 0, 0.8, 0, 1.2, 0, 0, 0.8, 0, 1.5, 0, 0.5],
    [0, 4.2, 0.4, 0.2, 0.1, 0, 0, 0.2, 0.1, 0, 0, 0, 0, 0, 0, 0, 0, 0, 0, 0, 0, 0, 0, 0, 0, 0, 0, 0, 0, 0],
    [0.1, 6.8, 1.0, 0.4, 0.3, 0.1, 0.2, 0.6, 0.2, 0, 0, 0, 0, 0, 0, 0, 0, 0, 0, 0, 0, 0, 0, 0, 1.0, 0, 1.8, 0, 0, 0],
    [0, 3.2, 0.3, 0.2, 0.1, 0, 0.1, 0.2, 0, 0, 0, 0, 0, 0, 0, 0, 0, 0, 0, 0, 0, 0, 0, 0, 0, 0, 0, 0, 0, 0],
    [0.1, 8.8, 2.4, 0.5, 0.6, 0.2, 0.3, 0.9, 0.4, 0, 0, 0, 0, 0, 0, 0, 0, 0, 0, 0, 0, 0.6, 0, 1.8, 0, 0, 0.5, 0, 0, 0],
    [0, 1.5, 0.1, 0.1, 0, 0, 0, 0.1, 0, 0, 0, 0, 0, 0, 0, 0, 0, 0, 0, 0, 0, 0, 0, 0, 0, 0, 0, 0, 0, 0],
]


def teken_paneel(ax, leden, ctrl, oper, gem, ylim, stap, minor, eenheid, naam, lijnen):
    """
    Tekent een pluim (ensemble-leden + control, oper en ensemble-gemiddelde) in ax.

    lijnen: lijst van (waarde, kleur, dikte) voor de horizontale drempellijnen.
    """
    for waarde, kleur, dikte in lijnen:
        ax.axhline(waarde, color=kleur, lw=dikte, zorder=1)

    # Ensemble-leden in groen
    for lid in leden:
        ax.plot(t_leden, lid, color='#6aa332', lw=0.7, alpha=0.6, zorder=2)

    ax.plot(t6, gem, color='#8b2a1a', lw=1.3, ls=(0, (1, 1.6)), zorder=4)
    ax.plot(t6, ctrl, color='#0000ff', lw=1.5, ls=(0, (1, 1.6)), zorder=5)
    ax.plot(t_oper, oper, color='#ff2020', lw=1.5, zorder=6)

    ax.set_xlim(0, 360)
    ax.set_ylim(*ylim)

    # X-as: uren en dagnamen
    ax.set_xticks(np.arange(0, 361, 12))
    ax.set_xticklabels(uur_labels)
    ax.tick_params(axis='x', labelsize=5, length=2.5, pad=1.5)
    for i, dag in enumerate(dagen):
        ax.text(12 + 24 * i, -0.115, dag, transform=ax.get_xaxis_transform(),
                ha='center', va='center', fontsize=6.5, fontweight='bold')

    # Y-as aan beide kanten
    ax.yaxis.set_major_locator(MultipleLocator(stap))
    ax.yaxis.set_minor_locator(MultipleLocator(minor))
    ax.tick_params(axis='y', which='both', left=True, right=True,
                   labelleft=True, labelright=True, labelsize=5.5, direction='out')
    ax.tick_params(axis='y', which='major', length=4, pad=2)
    ax.tick_params(axis='y', which='minor', length=2.5, color='#999999')
    ax.set_ylabel(eenheid, fontsize=6.5, fontweight='bold')
    ax.yaxis.set_label_coords(-0.062, 0.5)

    ax.text(0.53, 1.125, titel, transform=ax.transAxes, ha='center', va='center',
            fontsize=8, fontweight='bold')

    # Legenda
    for j, (label, kleur, stijl, dik) in enumerate([('Control', '#0000ff', (0, (1, 1.6)), 1.2),
                                                     ('  Oper', '#ff2020', '-', 1.5),
                                                     ('Ens mn', '#8b2a1a', (0, (1, 1.6)), 1.2)]):
        yy = 0.938 - 0.052 * j
        ax.plot([0.012, 0.046], [yy, yy], transform=ax.transAxes, color=kleur, ls=stijl, lw=dik, zorder=7)
        ax.text(0.059, yy, label, transform=ax.transAxes, ha='left', va='center', fontsize=5.8)

    ax.text(0.871, 0.95, 'Leeuwarden\n' + naam, transform=ax.transAxes, ha='center', va='top',
            fontsize=7, fontweight='bold', linespacing=1.05)
    ax.text(1.062, -0.18, 'Bron: ECMWF/KNMI', transform=ax.transAxes, ha='right', va='center',
            fontsize=4.6, fontweight='bold', color='#0000ff')


fig = plt.figure(figsize=(8.63, 6.19), dpi=100)
W, H = 863, 619

links = [32, 463]
rijen = [(29, 175), (234, 381), (441, 587)]
assen = []
for boven, onder in rijen:
    for l in links:
        assen.append(fig.add_axes([l / W, 1 - onder / H, 372 / W, (onder - boven) / H]))

teken_paneel(assen[0], p6_leden, p6_ctrl, p6_oper, p6_gem, (0, 20), 5, 1, 'mm', 'Neerslag/6 uur',
             [(15, '#555555', 0.9)])
teken_paneel(assen[1], acc_leden, acc_ctrl, acc_oper, acc_gem, (0, 85), 10, 2, 'mm', 'Accum Neerslag',
             [(v, '#aaaaaa', 0.7) for v in range(10, 81, 10)])
teken_paneel(assen[2], w_leden, w_ctrl, w_oper, w_gem, (0, 20), 5, 1, 'm/s', '10m wind',
             [(10.8, '#a0a0a0', 2.2), (13.8, '#a0a0a0', 1.0), (17.1, '#a0a0a0', 1.0)])
teken_paneel(assen[3], g_leden, g_ctrl, g_oper, g_gem, (0, 40), 5, 1, 'm/s', 'Windstoten',
             [(21, '#666666', 0.9), (24.5, '#666666', 0.9), (28.5, '#cc66dd', 1.0)])
teken_paneel(assen[4], t2_leden, t2_ctrl, t2_oper, t2_gem, (-15, 15), 5, 1, '(Celsius)', 'T2m',
             [(0, '#555555', 0.9)])
teken_paneel(assen[5], s_leden, s_ctrl, s_oper, s_gem, (0, 12), 2, 0.5, 'cm', 'sneeuwval/6 uur',
             [(5, '#cc66dd', 1.0)])

# Blauwe kaders tussen de panelen
for x in [1.5 / W, 431 / W, 861.5 / W]:
    fig.add_artist(Line2D([x, x], [0, 1], color='#0000ff', lw=1.5))
for y in [1 - 0.5 / H, 1 - 205 / H, 1 - 412 / H, 1 - 617.5 / H]:
    fig.add_artist(Line2D([0, 1], [y, y], color='#0000ff', lw=1.5))

fig.savefig('out.png', dpi=100)
